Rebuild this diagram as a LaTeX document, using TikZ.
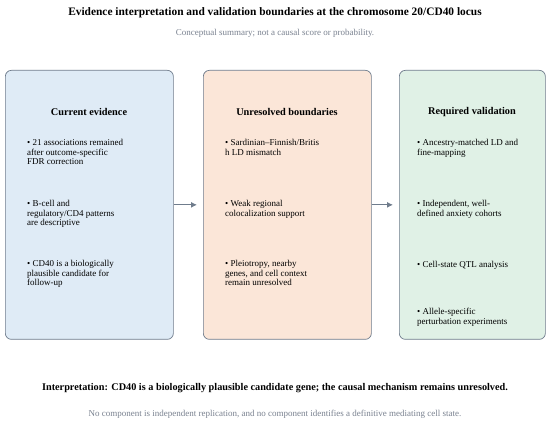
\documentclass[tikz,border=0pt]{standalone}
\usepackage{fontspec}
\setmainfont{Liberation Serif}
\usepackage{xcolor}
\usetikzlibrary{arrows.meta, positioning}
\definecolor{bordergray}{HTML}{6F7C8C}
\definecolor{notegray}{HTML}{7A8290}
\definecolor{evidenceblue}{HTML}{DFEBF6}
\definecolor{boundarypeach}{HTML}{FBE6D8}
\definecolor{validgreen}{HTML}{E0F1E6}
\newcommand{\voce}[1]{\textbullet\ #1}

\begin{document}
\begin{tikzpicture}[x = 1pt, y = -1pt,
    panel/.style = {draw = bordergray, line width = 0.7pt, rounded corners = 6pt,
        minimum height = 269pt, inner sep = 0pt, anchor = north west},
    paneltitle/.style = {font = \fontsize{10.3}{12}\selectfont\bfseries},
    item/.style = {anchor = north west, align = left, inner sep = 0pt,
        font = \fontsize{9}{9.7}\selectfont},
    flow/.style = {-{Latex[length = 6pt, width = 6pt]}, draw = bordergray, line width = 1pt, shorten > = 6pt}]
    \useasboundingbox[fill = white] (0,0) rectangle (550,427);
    % Titoli
    \node[font = \fontsize{11.4}{13}\selectfont\bfseries] (titolo) at (275,13) {Evidence interpretation and validation boundaries at the chromosome 20/CD40 locus};
    \node[font = \fontsize{9}{10}\selectfont, text = notegray] (sottotitolo) at (275,33) {Conceptual summary; not a causal score or probability.};
    % Pannelli
    \node[panel, fill = evidenceblue, minimum width = 168pt] (evidenza) at (5,70) {};
    \node[panel, fill = boundarypeach, minimum width = 168pt] (confini) at (203,70) {};
    \node[panel, fill = validgreen, minimum width = 146pt] (validazione) at (399,70) {};
    \node[paneltitle] (tEvidenza) at (89,112) {Current evidence};
    \node[paneltitle] (tConfini) at (287,112) {Unresolved boundaries};
    \node[paneltitle] (tValidazione) at (472,112) {Required validation};
    % Voci
    \node[item] (e1) at (27,139) {\voce{21 associations remained}\\after outcome-specific\\FDR correction};
    \node[item] (e2) at (27,200) {\voce{B-cell and}\\regulatory/CD4 patterns\\are descriptive};
    \node[item] (e3) at (27,260) {\voce{CD40 is a biologically}\\plausible candidate for\\follow-up};
    \node[item] (c1) at (225,139) {\voce{Sardinian–Finnish/Britis}\\h LD mismatch};
    \node[item] (c2) at (225,200) {\voce{Weak regional}\\colocalization support};
    \node[item] (c3) at (225,260) {\voce{Pleiotropy, nearby}\\genes, and cell context\\remain unresolved};
    \node[item] (v1) at (417,139) {\voce{Ancestry-matched LD and}\\fine-mapping};
    \node[item] (v2) at (417,200) {\voce{Independent, well-}\\defined anxiety cohorts};
    \node[item] (v3) at (417,261) {\voce{Cell-state QTL analysis}};
    \node[item] (v4) at (417,308) {\voce{Allele-specific}\\perturbation experiments};
    % Frecce
    \draw[flow] (evidenza.east) -- (confini.west);
    \draw[flow] (confini.east) -- (validazione.west);
    % Conclusione
    \node[font = \fontsize{10.25}{12}\selectfont\bfseries] (interpretazione) at (275,388) {Interpretation: CD40 is a biologically plausible candidate gene; the causal mechanism remains unresolved.};
    \node[font = \fontsize{9}{10}\selectfont, text = notegray] (nota) at (275,414) {No component is independent replication, and no component identifies a definitive mediating cell state.};
\end{tikzpicture}
\end{document}
